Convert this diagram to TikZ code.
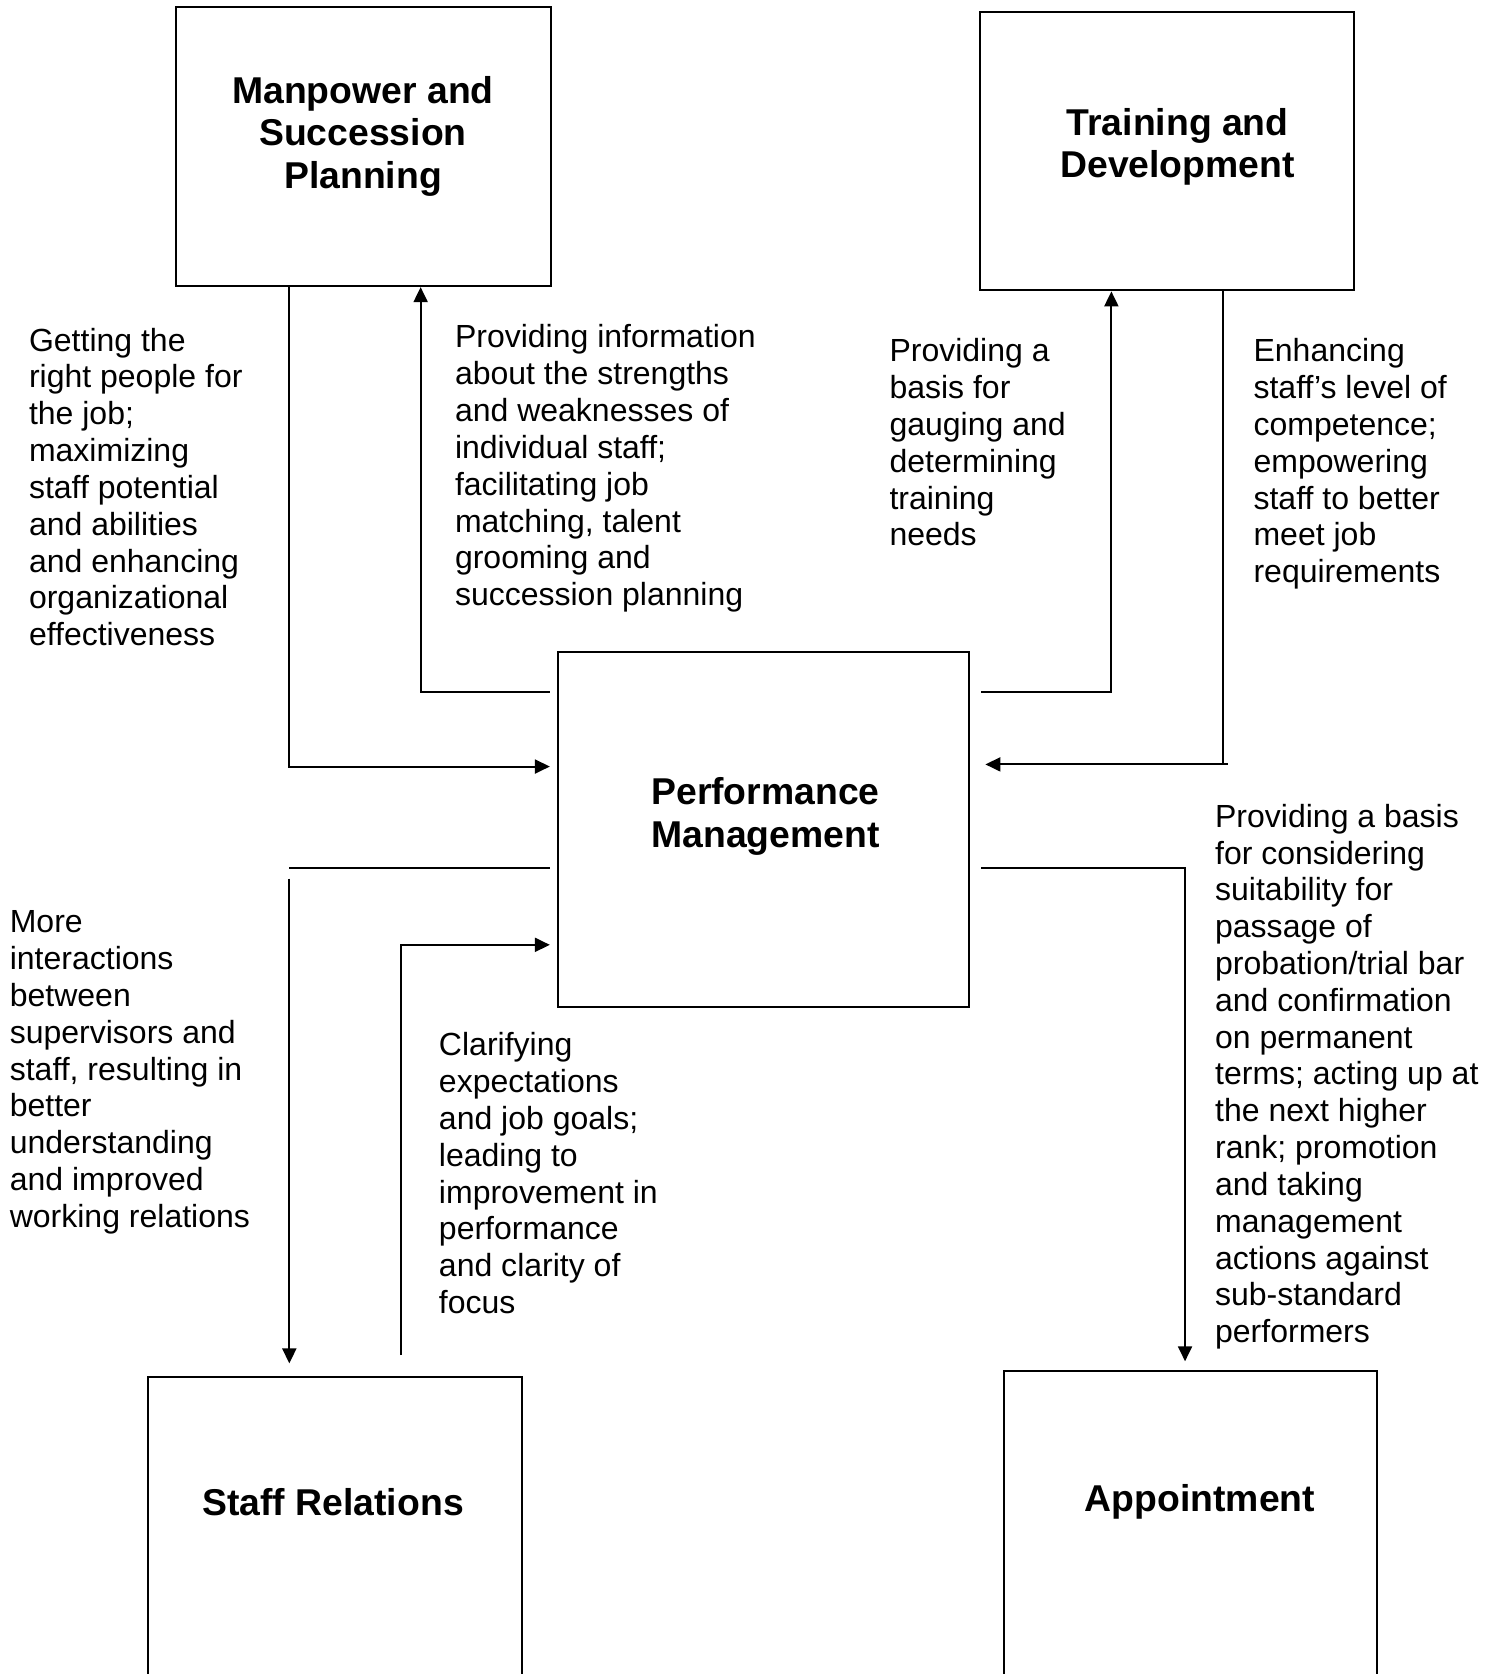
\documentclass[tikz,border=0pt]{standalone}
\usepackage{fontspec}
\setmainfont{Liberation Sans}
\usetikzlibrary{arrows.meta,fit}
\begin{document}
\begin{tikzpicture}[x=1.0673pt,y=-1.0673pt,
  box/.style={draw, line width=2pt, inner sep=0pt},
  ttl/.style={align=center, anchor=north, inner sep=0pt, font=\bfseries\fontsize{37.33}{42.9}\selectfont},
  txt/.style={align=left, anchor=north west, inner sep=0pt, font=\fontsize{32}{36.8}\selectfont},
  conn/.style={line width=2pt},
  arr/.style={line width=2pt, -{Triangle[length=15pt,width=14pt]}}]
\clip (0,0) rectangle (1397,1568);
% boxes
\node[box, fit={(165,7) (516,268)}] (mp) {};
\node[box, fit={(918,11) (1268,272)}] (td) {};
\node[box, fit={(523,611) (908,943)}] (pm) {};
\node[box, fit={(139,1290) (489,1620)}] (sr) {};
\node[box, fit={(940,1284) (1290,1620)}] (ap) {};
% titles
\node[ttl] (mpt) at (340,71) {Manpower and\\Succession\\Planning};
\node[ttl] (tdt) at (1103,101) {Training and\\Development};
\node[ttl] (pmt) at (717,728) {Performance\\Management};
\node[ttl] (srt) at (312,1394) {Staff Relations};
\node[ttl] (apt) at (1124,1390) {Appointment};
% texts
\node[txt] (ta) at (27,307) {Getting the\\right people for\\the job;\\maximizing\\staff potential\\and abilities\\and enhancing\\organizational\\effectiveness};
\node[txt] (tb) at (426,304) {Providing information\\about the strengths\\and weaknesses of\\individual staff;\\facilitating job\\matching, talent\\grooming and\\succession planning};
\node[txt] (tc) at (833,317) {Providing a\\basis for\\gauging and\\determining\\training\\needs};
\node[txt] (tdx) at (1174,317) {Enhancing\\staff’s level of\\competence;\\empowering\\staff to better\\meet job\\requirements};
\node[txt] (te) at (1138,753) {Providing a basis\\for considering\\suitability for\\passage of\\probation/trial bar\\and confirmation\\on permanent\\terms; acting up at\\the next higher\\rank; promotion\\and taking\\management\\actions against\\sub-standard\\performers};
\node[txt] (tf) at (9,853) {More\\interactions\\between\\supervisors and\\staff, resulting in\\better\\understanding\\and improved\\working relations};
\node[txt] (tg) at (411,967) {Clarifying\\expectations\\and job goals;\\leading to\\improvement in\\performance\\and clarity of\\focus};
% connectors
\draw[arr, shorten >=7.5pt] (271,0 |- mp.south) |- (pm.west |- 0,718);
\draw[arr, shorten <=7.5pt] (pm.west |- 0,648) -| (394,0 |- mp.south);
\draw[arr, shorten <=10.7pt] (pm.east |- 0,648) -| (1041,0 |- td.south);
\coordinate (tdc) at (1150,716);
\draw[conn] (1146,0 |- td.south) |- (tdc);
\draw[arr, shorten >=15pt] (tdc) -- (pm.east |- tdc);
\draw[conn, shorten <=7.5pt] (pm.west |- 0,813) -- (271,813);
\coordinate (src) at (271,823);
\draw[arr, shorten >=12.8pt] (src) -- (src |- sr.north);
\draw[arr, shorten <=21pt, shorten >=7.5pt] (376,0 |- sr.north) |- (pm.west |- 0,885);
\draw[arr, shorten <=10.7pt, shorten >=8.5pt] (pm.east |- 0,813) -| (1110,0 |- ap.north);
\end{tikzpicture}
\end{document}
